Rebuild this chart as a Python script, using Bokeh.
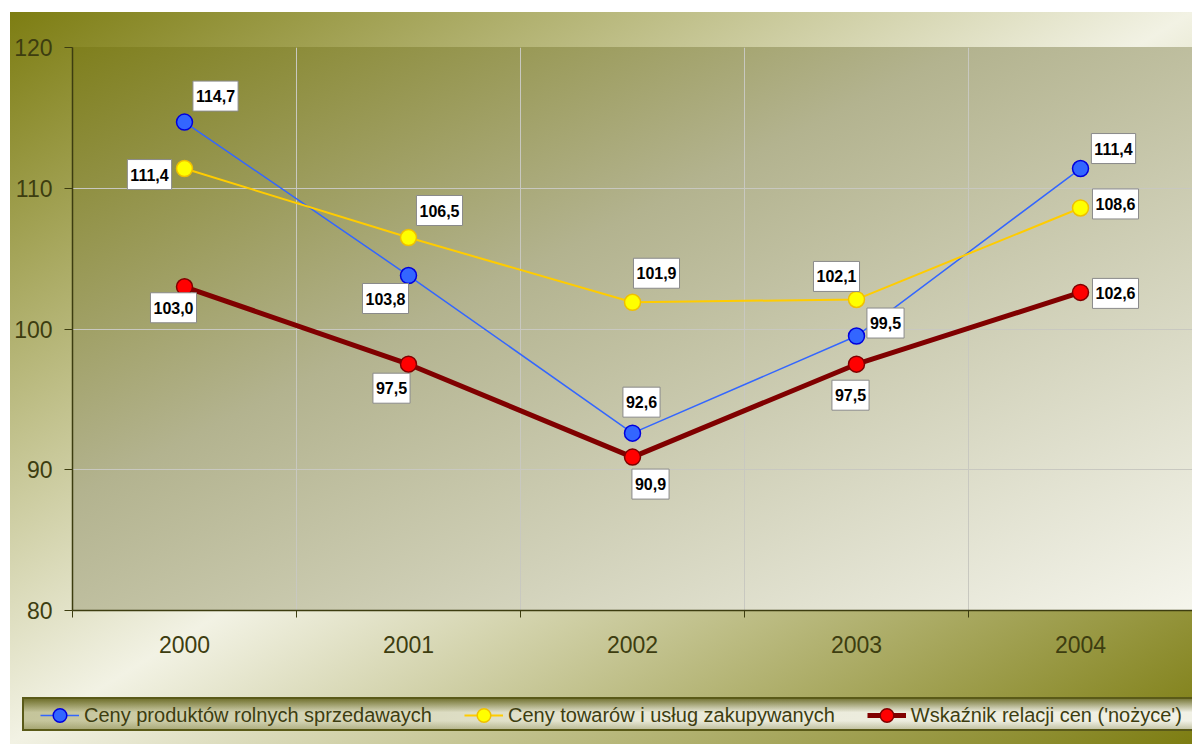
from bokeh.plotting import figure
from bokeh.layouts import column
from bokeh.models import ColumnDataSource, FixedTicker, Legend, LegendItem
from bokeh.embed import file_html
from bokeh.resources import INLINE
from bokeh.core.properties import value

# ---- data ----
years = ["2000", "2001", "2002", "2003", "2004"]
ceny_produktow = [114.7, 103.8, 92.6, 99.5, 111.4]
ceny_towarow = [111.4, 106.5, 101.9, 102.1, 108.6]
wskaznik = [103.0, 97.5, 90.9, 97.5, 102.6]
series_names = [
    "Ceny produktów rolnych sprzedawaych",
    "Ceny towarów i usług zakupywanych",
    "Wskaźnik relacji cen ('nożyce')",
]
y_ticks = [80, 90, 100, 110, 120]

# ---- styling ----
FONT = "Liberation Sans"
DARK = "#3d3d10"
styles = [
    dict(line="#3366ff", lw=1.5, fill="#3366ff", edge="#0000dd"),
    dict(line="#ffcc00", lw=2, fill="#ffff00", edge="#f0c000"),
    dict(line="#800000", lw=5, fill="#ff0000", edge="#800000"),
]
# label offsets in screen pixels (dx right, dy down)
label_dx = [[31, -23, 9, 29, 33], [-35, 31, 24, -20, 35], [-11, -17, 18, -6, 35]]
label_dy = [[-26, 23, -31, -13, -20], [6, -27, -29, -23, -4], [21, 24, 27, 31, 1]]

W, H = 1192, 744
TOP_H = 664
LEG_H = H - TOP_H

def outer(top):
    return ("linear-gradient(to bottom right, #7d7d12 0%, #f2f2e4 50%, #7d7d12 100%) "
            f"10px {12 - top}px / 1182px 732px no-repeat")

bg_top = (
    "linear-gradient(to bottom right, #7f7f1d 0%, #b3b38f 40%, #f5f5ec 100%) 72px 47px / 1120px 563px no-repeat, "
    + outer(0) + ", #ffffff"
)
lt, lb = 697 - TOP_H, 731 - TOP_H
line = "linear-gradient(#5a5a18, #5a5a18)"
bg_leg = (
    f"{line} 22px {lt}px / 1175px 2px no-repeat, "
    f"{line} 22px {lb - 2}px / 1175px 2px no-repeat, "
    f"{line} 22px {lt}px / 2px {lb - lt}px no-repeat, "
    "linear-gradient(to bottom, rgba(90,90,15,0.9) 0%, rgba(90,90,15,0) 45%, rgba(90,90,15,0) 70%, rgba(90,90,15,0.35) 100%) "
    f"22px {lt}px / 1175px {lb - lt}px no-repeat, "
    f"linear-gradient(to right, #c4c49a 0%, #e9e9d8 55%, #f1f1e6 100%) 22px {lt}px / 1175px {lb - lt}px no-repeat, "
    + outer(TOP_H) + ", #ffffff"
)

xs = list(range(len(years)))

p = figure(
    width=W, height=TOP_H,
    x_range=(-0.5, 4.5), y_range=(80, 120),
    output_backend="svg", toolbar_location=None,
    min_border_left=72, min_border_right=0, min_border_top=47,
    min_border_bottom=TOP_H - 610,
)
p.styles = {"background": bg_top}
p.border_fill_alpha = 0
p.background_fill_alpha = 0
p.outline_line_color = None

# axes
p.xaxis.ticker = FixedTicker(ticks=xs, minor_ticks=[x - 0.5 for x in xs] + [xs[-1] + 0.5])
p.xaxis.major_label_overrides = {x: y for x, y in zip(xs, years)}
p.xaxis.major_tick_out = 0
p.xaxis.major_tick_in = 0
p.xaxis.minor_tick_out = 7
p.xaxis.minor_tick_in = 0
p.xaxis.minor_tick_line_color = DARK
p.xaxis.major_label_standoff = 18

p.yaxis.ticker = FixedTicker(ticks=y_ticks)
p.yaxis.major_tick_out = 8
p.yaxis.major_tick_in = 0
p.yaxis.minor_tick_line_color = None
p.yaxis.major_label_standoff = 12

for ax in (p.xaxis, p.yaxis):
    ax.axis_line_color = DARK
    ax.axis_line_width = 1.5
    ax.major_tick_line_color = DARK
    ax.major_label_text_font = FONT
    ax.major_label_text_font_size = "23px"
    ax.major_label_text_color = DARK

p.xgrid.ticker = FixedTicker(ticks=[x + 0.5 for x in xs[:-1]])
p.xgrid.grid_line_color = "#c8c8c0"
p.ygrid.grid_line_color = "#c8c8c0"

# legend strip: same data, drawn in a range where it lies out of view
lp = figure(
    width=W, height=LEG_H, x_range=(-100, -99), y_range=(0, 1),
    output_backend="svg", toolbar_location=None,
    x_axis_type=None, y_axis_type=None,
    min_border_left=0, min_border_right=0, min_border_top=0, min_border_bottom=0,
)
lp.styles = {"background": bg_leg}
lp.border_fill_alpha = 0
lp.background_fill_alpha = 0
lp.outline_line_color = None
lp.xgrid.visible = False
lp.ygrid.visible = False

items = []
for k, vals in enumerate([ceny_produktow, ceny_towarow, wskaznik]):
    st = styles[k]
    src = ColumnDataSource(dict(
        x=xs, y=vals,
        lab=[f"{v:.1f}".replace(".", ",") for v in vals],
        dx=label_dx[k], dy=label_dy[k],
    ))
    p.line("x", "y", source=src, line_color=st["line"], line_width=st["lw"])
    p.scatter("x", "y", source=src, size=16, fill_color=st["fill"],
              line_color=st["edge"], line_width=1.5)
    p.text("x", "y", text="lab", source=src, x_offset="dx", y_offset="dy",
           text_font=value(FONT), text_font_style="bold", text_font_size="16px",
           text_color="#000000", text_align="center", text_baseline="middle",
           background_fill_color="#ffffff", border_line_color="#8a8a8a",
           border_line_width=1, padding=(3, 9))
    lr = lp.line("x", "y", source=src, line_color=st["line"], line_width=st["lw"] if k < 2 else 5)
    sr = lp.scatter("x", "y", source=src, size=16, fill_color=st["fill"],
                    line_color=st["edge"], line_width=1.5)
    items.append(LegendItem(label=series_names[k], renderers=[lr, sr]))

legend = Legend(items=items, orientation="horizontal", location=(40, 12))
legend.label_text_font = FONT
legend.label_text_font_size = "20px"
legend.label_text_color = DARK
legend.glyph_width = 39
legend.glyph_height = 34
legend.label_standoff = 5
legend.spacing = 32
legend.padding = 6
legend.margin = 0
legend.background_fill_alpha = 0
legend.border_line_color = None
lp.add_layout(legend, "center")

layout = column(p, column(lp, spacing=0), spacing=0)
open("out.html", "w").write(file_html(layout, INLINE))
